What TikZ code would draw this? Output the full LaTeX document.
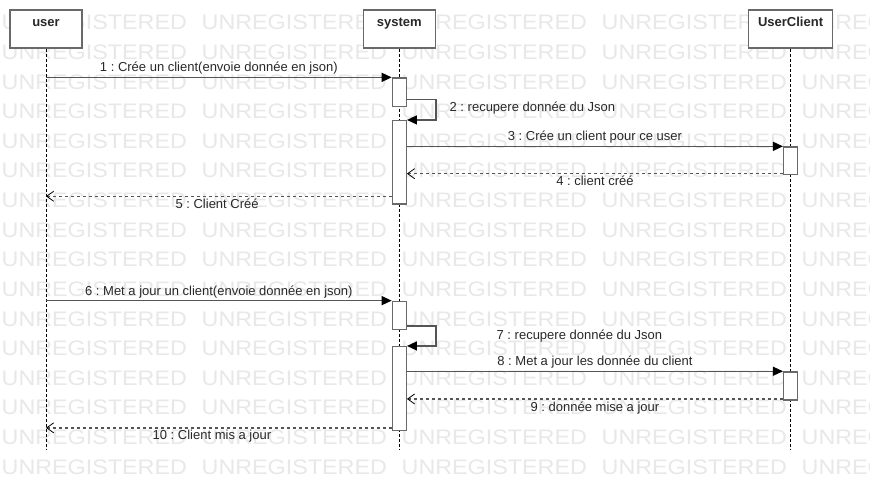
\documentclass[tikz,border=0pt]{standalone}
\usepackage{fontspec}
\setmainfont{Liberation Sans}
\newfontfamily\wmfont[FakeStretch=1.11]{Liberation Sans}
\usetikzlibrary{positioning,arrows.meta}
\frenchspacing

\definecolor{wmgray}{RGB}{232,232,232}
\definecolor{boxgray}{RGB}{105,105,105}
\definecolor{msggray}{RGB}{85,85,85}
\definecolor{txtgray}{RGB}{40,40,40}

\tikzset{
	wm/.style={anchor=base west, inner sep=0pt, text=wmgray, font=\wmfont\fontsize{21}{21}\selectfont},
	head/.style={draw=boxgray, line width=1.3pt, fill=white, minimum width=72pt, minimum height=38pt, inner sep=0pt, text height=9.5pt, text depth=14pt, text=txtgray, font=\fontsize{13}{15}\selectfont\bfseries},
	act/.style={draw=boxgray, line width=1.3pt, fill=white, minimum width=14pt, inner sep=0pt},
	lifeline/.style={black, line width=0.8pt, dash pattern=on 3pt off 2pt},
	msg/.style={msggray, line width=1.4pt, -{Triangle[length=10pt, width=9pt, black]}},
	reply/.style={msggray, line width=1.3pt, dash pattern=on 3pt off 3pt, -{Straight Barb[length=7pt, width=10pt, black, line width=0.8pt]}},
	lbl/.style={inner sep=1pt, text=txtgray, font=\fontsize{13}{15}\selectfont}
}

\begin{document}
\begin{tikzpicture}[x=1pt, y=-1pt]
	\path[use as bounding box, fill=white] (0,0) rectangle (870,492);
	\clip (0,0) rectangle (870,492);
	
	\foreach \r in {0,...,15}
		\foreach \c in {0,...,4}
			\node[wm] (wm-\r-\c) at (1.5+200*\c, 30+29.6*\r) {UNREGISTERED};
	
	\node[head] (user) at (46,29) {user};
	\node[head, right=280pt of user] (system) {system};
	\node[head, minimum width=84pt, right=312pt of system] (client) {UserClient};
	
	\def\len{401pt}
	\coordinate[below=\len of user] (user end);
	\coordinate[below=\len of system] (system end);
	\coordinate[below=\len of client] (client end);
	\draw[lifeline] (user.south) -- (user end);
	\draw[lifeline] (system.south) -- (system end);
	\draw[lifeline] (client.south) -- (client end);
	
	\node[act, minimum height=28.3pt, below=28.7pt of system] (s1) {};
	\node[act, minimum height=83.4pt, below=13pt of s1] (s2) {};
	\node[act, minimum height=27.6pt, below=97.7pt of client] (c1) {};
	\node[act, minimum height=28pt, below=96pt of s2] (s3) {};
	\node[act, minimum height=84pt, below=16pt of s3] (s4) {};
	\node[act, minimum height=28pt, below=196pt of c1] (c2) {};
	
	\coordinate[above=7.5pt of s1.south east] (loop1);
	\coordinate[above=1.6pt of c1.south west] (r4);
	\coordinate[above=8.4pt of s2.south west] (r5);
	\coordinate[above=4pt of s3.south east] (loop2);
	\coordinate[above=1.6pt of c2.south west] (r9);
	\coordinate[above=3.4pt of s4.south west] (r10);
	
	\draw[msg] (s1.north west -| user) -- node[lbl, above=1pt] {1 : Crée un client(envoie donnée en json)} (s1.north west);
	\draw[msg] (loop1) -- (loop1 -| system.east) -- node[lbl, right=12pt, yshift=1.5pt] {2 : recupere donnée du Json} (s2.north east -| system.east) -- (s2.north east);
	\draw[msg] (c1.north west -| s2.east) -- node[lbl, above=1pt] {3 : Crée un client pour ce user} (c1.north west);
	\draw[reply] (r4) -- node[lbl, below=1pt] {4 : client créé} (r4 -| s2.east);
	\draw[reply] (r5) -- node[lbl, below=1pt, pos=0.505] {5 : Client Créé} (r5 -| user);
	
	\draw[msg] (s3.north west -| user) -- node[lbl, above=1pt] {6 : Met a jour un client(envoie donnée en json)} (s3.north west);
	\draw[msg] (loop2) -- (loop2 -| system.east) -- node[lbl, right=59pt] {7 : recupere donnée du Json} (s4.north east -| system.east) -- (s4.north east);
	\draw[msg] (c2.north west -| s4.east) -- node[lbl, above=1pt] {8 : Met a jour les donnée du client} (c2.north west);
	\draw[reply] (r9) -- node[lbl, below=1pt] {9 : donnée mise a jour} (r9 -| s4.east);
	\draw[reply] (r10) -- node[lbl, below=1pt, pos=0.52] {10 : Client mis a jour} (r10 -| user);
\end{tikzpicture}
\end{document}
